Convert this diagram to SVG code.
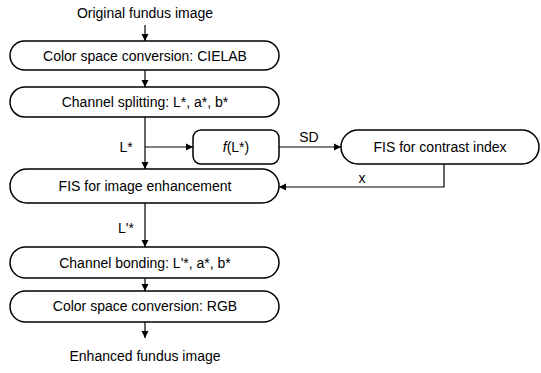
<svg xmlns="http://www.w3.org/2000/svg" width="541" height="373" viewBox="0 0 541 373">
<defs>
<marker id="ah" markerWidth="8" markerHeight="8" refX="7" refY="4" orient="auto" markerUnits="userSpaceOnUse">
<path d="M0,0.5 L7,4 L0,7.5 Z" fill="#000"/>
</marker>
<style>
.box{fill:#fff;stroke:#000;stroke-width:1.5}
.t{font-family:"Liberation Sans",Arial,sans-serif;font-size:14px;fill:#000;text-anchor:middle;dominant-baseline:central}
.c{fill:none;stroke:#000;stroke-width:1.2}
</style>
</defs>
<rect width="541" height="373" fill="#fff"/>
<g id="connectors">
<line class="c" x1="145" y1="25" x2="145" y2="41" marker-end="url(#ah)"/>
<line class="c" x1="145" y1="70" x2="145" y2="87" marker-end="url(#ah)"/>
<line class="c" x1="145" y1="117" x2="145" y2="169" marker-end="url(#ah)"/>
<line class="c" x1="145" y1="147" x2="193" y2="147" marker-end="url(#ah)"/>
<line class="c" x1="279" y1="147" x2="341" y2="147" marker-end="url(#ah)"/>
<polyline class="c" points="444,164 444,187 279,187" marker-end="url(#ah)"/>
<line class="c" x1="145" y1="203" x2="145" y2="247" marker-end="url(#ah)"/>
<line class="c" x1="145" y1="278" x2="145" y2="291" marker-end="url(#ah)"/>
<line class="c" x1="145" y1="322" x2="145" y2="338" marker-end="url(#ah)"/>
<text class="t" x="126" y="147">L*</text>
<text class="t" x="309" y="137">SD</text>
<text class="t" x="362" y="178">x</text>
<text class="t" x="126" y="228">L'*</text>
</g>
<g id="input"><text class="t" x="145" y="13">Original fundus image</text></g>
<g id="n1"><rect class="box" x="10" y="41" width="269" height="29" rx="14.5"/><text class="t" x="145" y="56">Color space conversion: CIELAB</text></g>
<g id="n2"><rect class="box" x="10" y="87" width="269" height="30" rx="15"/><text class="t" x="145" y="102">Channel splitting: L*, a*, b*</text></g>
<g id="nf"><rect class="box" x="193" y="130" width="86" height="34" rx="8"/><text class="t" x="236" y="147"><tspan font-style="italic">f</tspan>(L*)</text></g>
<g id="nc"><rect class="box" x="341" y="130" width="198" height="34" rx="17"/><text class="t" x="440" y="147">FIS for contrast index</text></g>
<g id="n3"><rect class="box" x="10" y="169" width="269" height="34" rx="17"/><text class="t" x="145" y="186">FIS for image enhancement</text></g>
<g id="n4"><rect class="box" x="10" y="247" width="269" height="31" rx="15.5"/><text class="t" x="145" y="263">Channel bonding: L'*, a*, b*</text></g>
<g id="n5"><rect class="box" x="10" y="291" width="269" height="31" rx="15.5"/><text class="t" x="145" y="306">Color space conversion: RGB</text></g>
<g id="output"><text class="t" x="145" y="356">Enhanced fundus image</text></g>
</svg>
